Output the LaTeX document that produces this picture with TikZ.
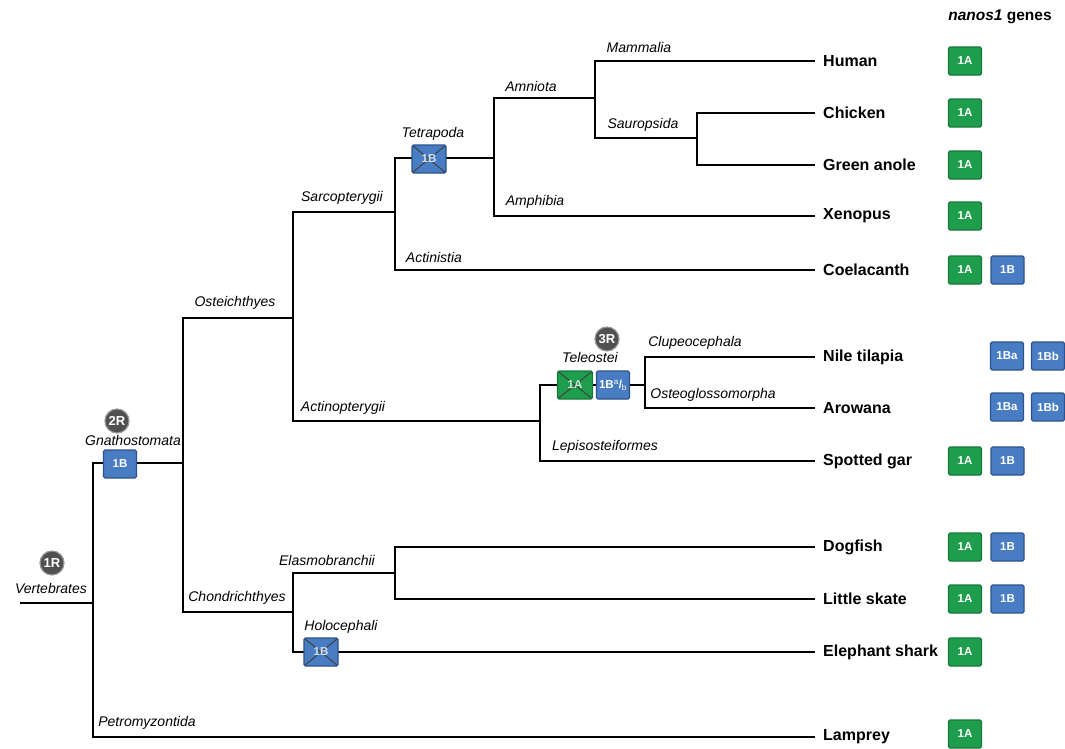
\documentclass[tikz,border=0pt]{standalone}
\usepackage{fontspec}
\setmainfont{Liberation Sans}
\begin{document}
\begin{tikzpicture}[x=1pt,y=-1pt,
  branch/.style={line width=1.1pt,black},
  clade/.style={font=\fontsize{14}{16}\selectfont\itshape,inner sep=0pt},
  species/.style={anchor=west,inner xsep=8pt,inner ysep=0pt,font=\fontsize{16}{18}\selectfont\bfseries},
  genebox/.style={rectangle,rounded corners=1.5pt,minimum width=33pt,minimum height=28pt,inner sep=0pt,line width=1.3pt,text=white,font=\fontsize{11.5}{13}\selectfont\bfseries},
  gA/.style={genebox,fill=geneGreen,draw=geneGreenD},
  gB/.style={genebox,fill=geneBlue,draw=geneBlueD},
  dup/.style={circle,fill=dupGray,draw=dupRim,line width=1.2pt,minimum size=24pt,inner sep=0pt,text=white,font=\fontsize{13}{15}\selectfont\bfseries},
  lost/.style={path picture={\draw[line width=1pt,black!75] (path picture bounding box.north west)--(path picture bounding box.south east)
      (path picture bounding box.north east)--(path picture bounding box.south west);}}
]
\definecolor{geneGreen}{RGB}{30,158,76}
\definecolor{geneGreenD}{RGB}{24,120,58}
\definecolor{geneBlue}{RGB}{72,125,196}
\definecolor{geneBlueD}{RGB}{45,82,140}
\definecolor{dupGray}{RGB}{80,80,80}
\definecolor{dupRim}{RGB}{150,150,150}
\useasboundingbox (0,0) rectangle (1065,748);

% internal branch points
\coordinate (root) at (20,603);
\coordinate (V) at (93,603);
\coordinate (G) at (183,463);
\coordinate (O) at (293,318);
\coordinate (C) at (293,612);
\coordinate (S) at (395,212);
\coordinate (T) at (494,158);
\coordinate (A) at (595,98);
\coordinate (Sa) at (697,138);
\coordinate (Ac) at (540,421);
\coordinate (Te) at (645,385);
\coordinate (E) at (395,573);

% species
\node[species] (human)   at (815,61)  {Human};
\node[species] (chicken) at (815,113) {Chicken};
\node[species] (anole)   at (815,165) {Green anole};
\node[species] (xenopus) at (815,216) {Xenopus};
\node[species] (coel)    at (815,270) {Coelacanth};
\node[species] (tilapia) at (815,357) {Nile tilapia};
\node[species] (arowana) at (815,408) {Arowana};
\node[species] (gar)     at (815,461) {Spotted gar};
\node[species] (dogfish) at (815,547) {Dogfish};
\node[species] (skate)   at (815,599) {Little skate};
\node[species] (eshark)  at (815,652) {Elephant shark};
\node[species] (lamprey) at (815,737) {Lamprey};

% branches
\draw[branch] (root) -- (V);
\draw[branch] (V) |- (G);
\draw[branch] (V) |- (lamprey);
\draw[branch] (G) |- (O);
\draw[branch] (G) |- (C);
\draw[branch] (O) |- (S);
\draw[branch] (O) |- (Ac);
\draw[branch] (S) |- (T);
\draw[branch] (S) |- (coel);
\draw[branch] (T) |- (A);
\draw[branch] (T) |- (xenopus);
\draw[branch] (A) |- (human);
\draw[branch] (A) |- (Sa);
\draw[branch] (Sa) |- (chicken);
\draw[branch] (Sa) |- (anole);
\draw[branch] (Ac) |- (Te);
\draw[branch] (Ac) |- (gar);
\draw[branch] (Te) |- (tilapia);
\draw[branch] (Te) |- (arowana);
\draw[branch] (C) |- (E);
\draw[branch] (C) |- (eshark);
\draw[branch] (E) |- (dogfish);
\draw[branch] (E) |- (skate);

% clade labels
\node[clade] (lVert) at (51,588) {Vertebrates};
\node[clade] (lGnat) at (133,440) {Gnathostomata};
\node[clade] (lOste) at (235,303) {Osteichthyes};
\node[clade] (lChon) at (237,598) {Chondrichthyes};
\node[clade] (lPetr) at (147,723) {Petromyzontida};
\node[clade] (lSarc) at (342,198) {Sarcopterygii};
\node[clade] (lActi) at (343,408) {Actinopterygii};
\node[clade] (lElas) at (327,560) {Elasmobranchii};
\node[clade] (lHolo) at (341,627) {Holocephali};
\node[clade] (lTetr) at (433,134) {Tetrapoda};
\node[clade] (lActn) at (434,257) {Actinistia};
\node[clade] (lAmni) at (531,86) {Amniota};
\node[clade] (lAmph) at (535,202) {Amphibia};
\node[clade] (lMamm) at (639,47) {Mammalia};
\node[clade] (lSaur) at (643,125) {Sauropsida};
\node[clade] (lTele) at (590,357) {Teleostei};
\node[clade] (lLepi) at (605,447) {Lepisosteiformes};
\node[clade] (lClup) at (695,343) {Clupeocephala};
\node[clade] (lOstg) at (713,395) {Osteoglossomorpha};

% duplication circles
\node[dup] (r1) at (52,563) {1R};
\node[dup] (r2) at (117,421) {2R};
\node[dup] (r3) at (607,339) {3R};

% boxes on branches
\node[gB] (bGnat) at (120,464) {1B};
\node[gB,lost,minimum width=34pt] (bTetr) at (429,159) {\textcolor{white!75!geneBlue}{1B}};
\node[gB,lost,minimum width=34pt] (bHolo) at (321,652) {\textcolor{white!75!geneBlue}{1B}};
\node[gA,lost,minimum width=35pt] (bTeleA) at (575,385) {\textcolor{white!75!geneGreen}{1A}};
\node[gB,minimum width=33pt] (bTeleB) at (613,385) {1B$^{\mathrm{a}}$/$_{\mathrm{b}}$};

% header
\node[font=\fontsize{15.5}{18}\selectfont\bfseries] (hdr) at (1000,17) {\textit{nanos1} genes};

% gene content
\node[gA] (g1) at (965,61) {1A};
\node[gA] (g2) at (965,113) {1A};
\node[gA] (g3) at (965,165) {1A};
\node[gA] (g4) at (965,216) {1A};
\node[gA] (g5a) at (965,270) {1A};
\node[gB] (g5b) at (1007.5,270) {1B};
\node[gB] (g6a) at (1007,356) {1Ba};
\node[gB] (g6b) at (1048,356) {1Bb};
\node[gB] (g7a) at (1007,407) {1Ba};
\node[gB] (g7b) at (1048,407) {1Bb};
\node[gA] (g8a) at (965,461) {1A};
\node[gB] (g8b) at (1007.5,461) {1B};
\node[gA] (g9a) at (965,547) {1A};
\node[gB] (g9b) at (1007.5,547) {1B};
\node[gA] (g10a) at (965,599) {1A};
\node[gB] (g10b) at (1007.5,599) {1B};
\node[gA] (g11) at (965,652) {1A};
\node[gA] (g12) at (965,734) {1A};
\end{tikzpicture}
\end{document}
